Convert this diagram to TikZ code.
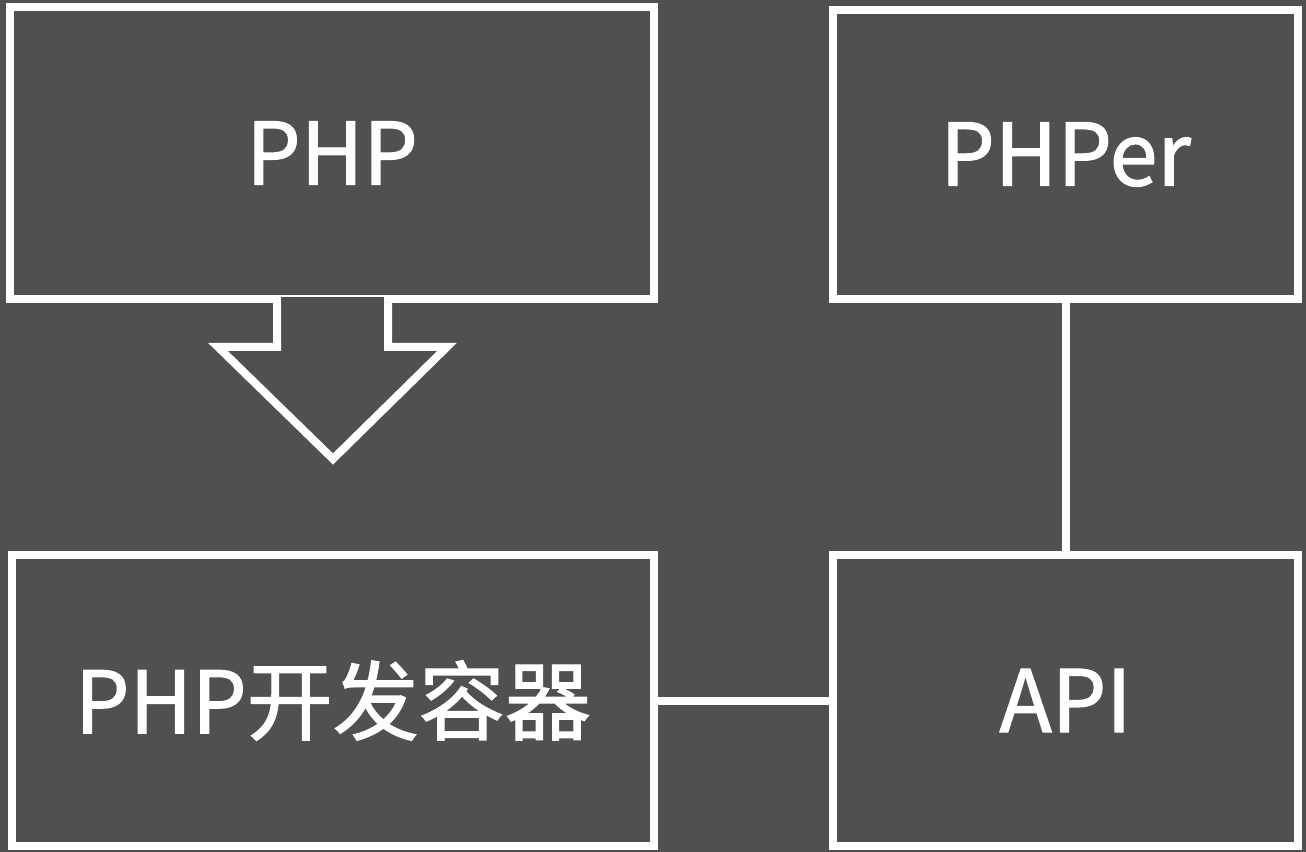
\documentclass[tikz,border=0pt]{standalone}
\usepackage{fontspec}
\setmainfont{Noto Sans CJK SC}[FakeBold=1.4]
\usetikzlibrary{calc}
\usetikzlibrary{positioning}

\definecolor{bggray}{RGB}{80,80,80}

\begin{document}
\begin{tikzpicture}[x=0.02cm,y=-0.02cm,
        box/.style={draw=white,line width=0.16cm,inner sep=0pt,
            text=white,font=\fontsize{49pt}{55pt}\selectfont},
        link/.style={draw=white,line width=0.16cm}]%
    % background
    \fill[bggray] (0,0) rectangle (1306,852);
    \useasboundingbox (0,0) rectangle (1306,852);
    % boxes
    \node[box,minimum width=12.88cm,minimum height=5.84cm] (php) at (332,153) {PHP};
    \node[box,minimum width=9.3cm,minimum height=5.78cm] (phper) at (1065.5,154.5) {PHPer};
    \node[box,minimum width=12.84cm,minimum height=5.82cm] (container) at (333,700.5) {PHP开发容器};
    \node[box,minimum width=9.3cm,minimum height=5.82cm] (api) at (1065.5,700.5) {API};
    % block arrow
    \fill[bggray] ($(php.south)+(-51,-6)$) rectangle ($(php.south)+(52,6)$);
    \draw[link,fill=bggray] ($(php.south)+(-55,0)$) -- ++(0,44) -- ++(-59,0)
        -- ($(php.south)+(1,156)$) -- ($(php.south)+(115,44)$)
        -- ++(-59,0) -- ($(php.south)+(56,0)$);
    % links
    \draw[link] (phper) -- (api);
    \draw[link] (container) -- (api);
\end{tikzpicture}
\end{document}
